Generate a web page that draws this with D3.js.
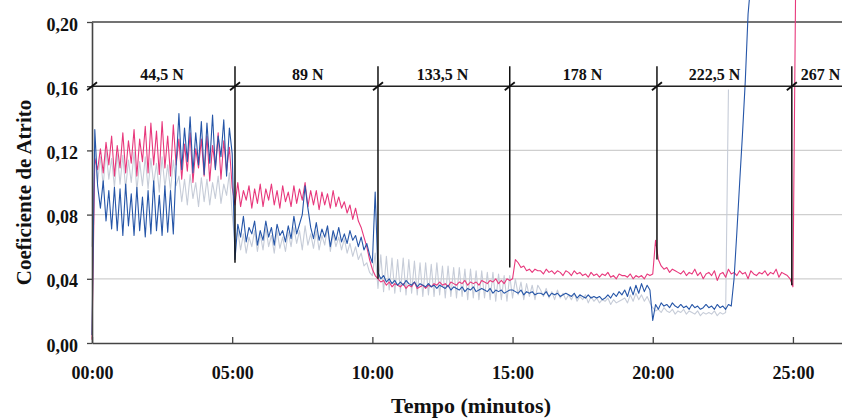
<!DOCTYPE html>
<html>
<head>
<meta charset="utf-8">
<script src="https://cdn.jsdelivr.net/npm/d3@7"></script>
<style>
  body { margin: 0; background: #fff; }
  svg text { font-family: "Liberation Serif", "Times New Roman", serif; font-weight: bold; fill: #111; }
</style>
</head>
<body>
<svg id="chart" width="842" height="418"></svg>
<script>
// Sampling interval of the friction records, in minutes
const STEP = 0.1;

// Coefficient of friction x1000, one row per minute of test
const serieRosa = [
  2,115,108,121,106,125,111,129,104,123,
  109,131,106,126,112,133,104,127,113,135,
  106,137,111,132,105,138,109,129,104,136,
  111,127,102,124,107,131,100,121,109,127,
  104,129,101,123,109,131,102,126,107,122,
  97,86,100,85,95,89,98,84,96,87,
  99,85,96,89,99,86,95,84,98,88,
  94,85,98,87,96,89,100,85,95,86,
  95,83,94,86,93,84,95,85,91,84,
  88,81,86,77,84,76,72,66,60,52,
  46,42,40,38,39,36,38,35,37,36,
  35,37,34,36,35,38,34,35,36,34,
  36,35,37,36,38,36,37,35,38,37,
  36,38,37,39,36,38,37,38,36,39,
  38,37,39,38,40,37,39,37,40,39,
  40,52,50,47,48,45,46,44,46,45,
  45,43,46,44,45,43,45,44,42,45,
  44,42,45,43,44,42,43,41,44,42,
  43,41,43,42,44,41,42,40,43,42,
  42,41,43,40,42,41,42,40,43,42,
  43,64,52,48,46,47,44,46,45,44,
  43,45,42,44,43,46,42,44,40,43,
  44,42,45,39,43,44,41,46,43,44,
  42,45,43,44,40,45,43,42,44,43,
  45,42,44,43,46,41,44,43,42,40,
  35,230
];

const serieAzul = [
  5,133,98,84,101,76,95,71,97,70,
  96,67,99,73,93,67,97,70,91,66,
  95,68,101,70,92,67,98,69,95,68,
  110,143,108,134,113,141,106,131,111,138,
  105,137,112,142,108,129,116,139,104,134,
  118,52,74,66,79,63,72,68,76,61,
  70,64,76,66,72,61,74,67,70,63,
  73,65,79,68,74,80,98,84,72,65,
  75,64,71,66,73,60,70,64,72,63,
  68,62,70,64,67,60,66,58,62,55,
  50,94,44,40,42,38,40,37,39,36,
  38,36,39,37,36,38,35,37,36,35,
  37,35,36,34,36,35,34,36,33,35,
  34,33,35,32,34,33,35,32,33,34,
  33,32,34,31,33,32,33,31,32,33,
  33,32,31,33,30,32,31,32,30,31,
  31,30,32,29,31,30,31,29,30,31,
  30,29,31,28,30,29,28,30,28,29,
  28,29,27,28,30,28,31,29,32,30,
  33,29,35,30,36,31,37,32,36,33,
  14,24,21,25,23,24,22,25,23,22,
  24,22,23,21,24,22,23,21,22,24,
  22,23,21,24,22,23,21,24,23,40,
  69,100,130,163,205,225
];

const serieCinza = [
  60,118,100,116,98,120,102,115,97,118,
  99,117,96,114,100,119,95,113,98,116,
  96,115,99,112,94,116,97,111,95,114,
  98,104,88,102,86,105,90,100,85,103,
  88,102,86,100,90,104,87,99,92,106,
  80,62,70,58,68,56,66,60,70,57,
  68,58,72,60,67,56,70,59,66,57,
  69,60,72,62,70,58,73,61,68,59,
  70,58,67,61,72,57,68,60,66,58,
  65,56,62,54,60,52,56,48,50,44,
  42,56,34,55,32,54,33,53,31,52,
  32,53,30,52,31,51,30,50,29,50,
  30,49,29,50,30,48,28,48,29,47,
  28,47,29,46,27,46,28,45,27,45,
  28,44,27,44,26,43,27,42,26,42,
  28,40,30,38,27,37,29,36,27,36,
  33,29,34,28,32,27,33,28,31,27,
  30,27,31,26,29,27,30,25,29,26,
  28,25,27,26,28,24,27,25,26,27,
  28,25,30,26,31,27,30,26,29,25,
  22,20,21,19,22,20,19,21,18,20,
  19,21,18,20,19,18,20,17,19,18,
  19,18,20,17,19,18,19,158
];

const yTicks = [0, 0.04, 0.08, 0.12, 0.16, 0.20];
const yGrid = [0.04, 0.08, 0.12];
const xTicks = [0, 5, 10, 15, 20, 25];

// Normal load stages: label, start time (min), lower end of the stage marker
const cargas = ["44,5 N", "89 N", "133,5 N", "178 N", "222,5 N", "267 N"];
const inicioCarga = [0, 5.1, 10.2, 14.9, 20.15, 24.96];
const fimMarcador = [0, 0.05, 0.04, 0.047, 0.052, 0.036];
const centroRotulo = [2.5, 7.7, 12.5, 17.5, 22.2, 25.98];
const cotaCarga = 0.16;    // level of the load dimension line
const topoMarcador = 0.1725;

const plot = { left: 92, right: 842, top: 22, bottom: 343 };

const svg = d3.select("#chart");

const x = d3.scaleLinear().domain([0, 26.75]).range([plot.left, plot.right]);
const y = d3.scaleLinear().domain([0, 0.20]).range([plot.bottom, plot.top]);

// light horizontal grid
svg.append("g").selectAll("line").data(yGrid).join("line")
  .attr("x1", plot.left).attr("x2", plot.right)
  .attr("y1", d => y(d)).attr("y2", d => y(d))
  .attr("stroke", "#cfcfcf").attr("stroke-width", 1.3);

// top frame line
svg.append("line")
  .attr("x1", plot.left).attr("x2", plot.right)
  .attr("y1", y(0.20)).attr("y2", y(0.20))
  .attr("stroke", "#444").attr("stroke-width", 1.6);

// friction curves
const toPoints = arr => arr.map((v, i) => [i * STEP, v / 1000]);
const line = d3.line().x(d => x(d[0])).y(d => y(d[1]));

const curvas = [
  { dados: serieCinza, cor: "#c6ccd8", largura: 1.1 },
  { dados: serieRosa,  cor: "#e8387c", largura: 1.1 },
  { dados: serieAzul,  cor: "#2656a8", largura: 1.1 }
];
svg.append("g").selectAll("path").data(curvas).join("path")
  .attr("d", d => line(toPoints(d.dados)))
  .attr("fill", "none")
  .attr("stroke", d => d.cor)
  .attr("stroke-width", d => d.largura)
  .attr("stroke-linejoin", "round");

// axes
const fmtY = v => d3.format(".2f")(v).replace(".", ",");
const yAxis = svg.append("g")
  .attr("transform", `translate(${plot.left},0)`)
  .call(d3.axisLeft(y).tickValues(yTicks).tickFormat(fmtY).tickSize(5).tickSizeOuter(0).tickPadding(9));
yAxis.select(".domain").attr("stroke", "#444").attr("stroke-width", 1.6);
yAxis.selectAll(".tick line").attr("stroke", "#444").attr("stroke-width", 1.3);
yAxis.selectAll(".tick text").attr("font-size", 18).attr("dy", "0.45em").attr("fill", "#111");

const fmtX = m => d3.format("02d")(m) + ":00";
const xAxis = svg.append("g")
  .attr("transform", `translate(0,${plot.bottom})`)
  .call(d3.axisBottom(x).tickValues(xTicks).tickFormat(fmtX).tickSize(-6).tickSizeOuter(0).tickPadding(23));
xAxis.select(".domain").attr("stroke", "#444").attr("stroke-width", 1.6);
xAxis.selectAll(".tick line").attr("stroke", "#444").attr("stroke-width", 1.3);
xAxis.selectAll(".tick text").attr("font-size", 18).attr("fill", "#111");

// load dimension line with stage markers
const gCota = svg.append("g");
gCota.append("line")
  .attr("x1", plot.left).attr("x2", plot.right)
  .attr("y1", y(cotaCarga)).attr("y2", y(cotaCarga))
  .attr("stroke", "#222").attr("stroke-width", 1.6);

gCota.selectAll("line.marcador").data(inicioCarga.slice(1)).join("line")
  .attr("class", "marcador")
  .attr("x1", d => x(d)).attr("x2", d => x(d))
  .attr("y1", y(topoMarcador))
  .attr("y2", (d, i) => y(fimMarcador[i + 1]))
  .attr("stroke", "#111").attr("stroke-width", 1.5);

gCota.selectAll("path.seta").data(inicioCarga).join("path")
  .attr("class", "seta")
  .attr("d", d => `M${x(d) - 5},${y(cotaCarga) + 4}L${x(d) + 5},${y(cotaCarga) - 4}`)
  .attr("stroke", "#111").attr("stroke-width", 1.8);

gCota.selectAll("text").data(cargas).join("text")
  .attr("x", (d, i) => x(centroRotulo[i]))
  .attr("y", y(cotaCarga) - 6)
  .attr("text-anchor", "middle")
  .attr("font-size", 16)
  .text(d => d);

// axis titles
svg.append("text")
  .attr("x", 471).attr("y", 413)
  .attr("text-anchor", "middle")
  .attr("font-size", 22)
  .text("Tempo (minutos)");

svg.append("text")
  .attr("transform", `translate(31,${(plot.top + plot.bottom) / 2 + 10}) rotate(-90)`)
  .attr("text-anchor", "middle")
  .attr("font-size", 21)
  .text("Coeficiente de Atrito");
</script>
</body>
</html>
